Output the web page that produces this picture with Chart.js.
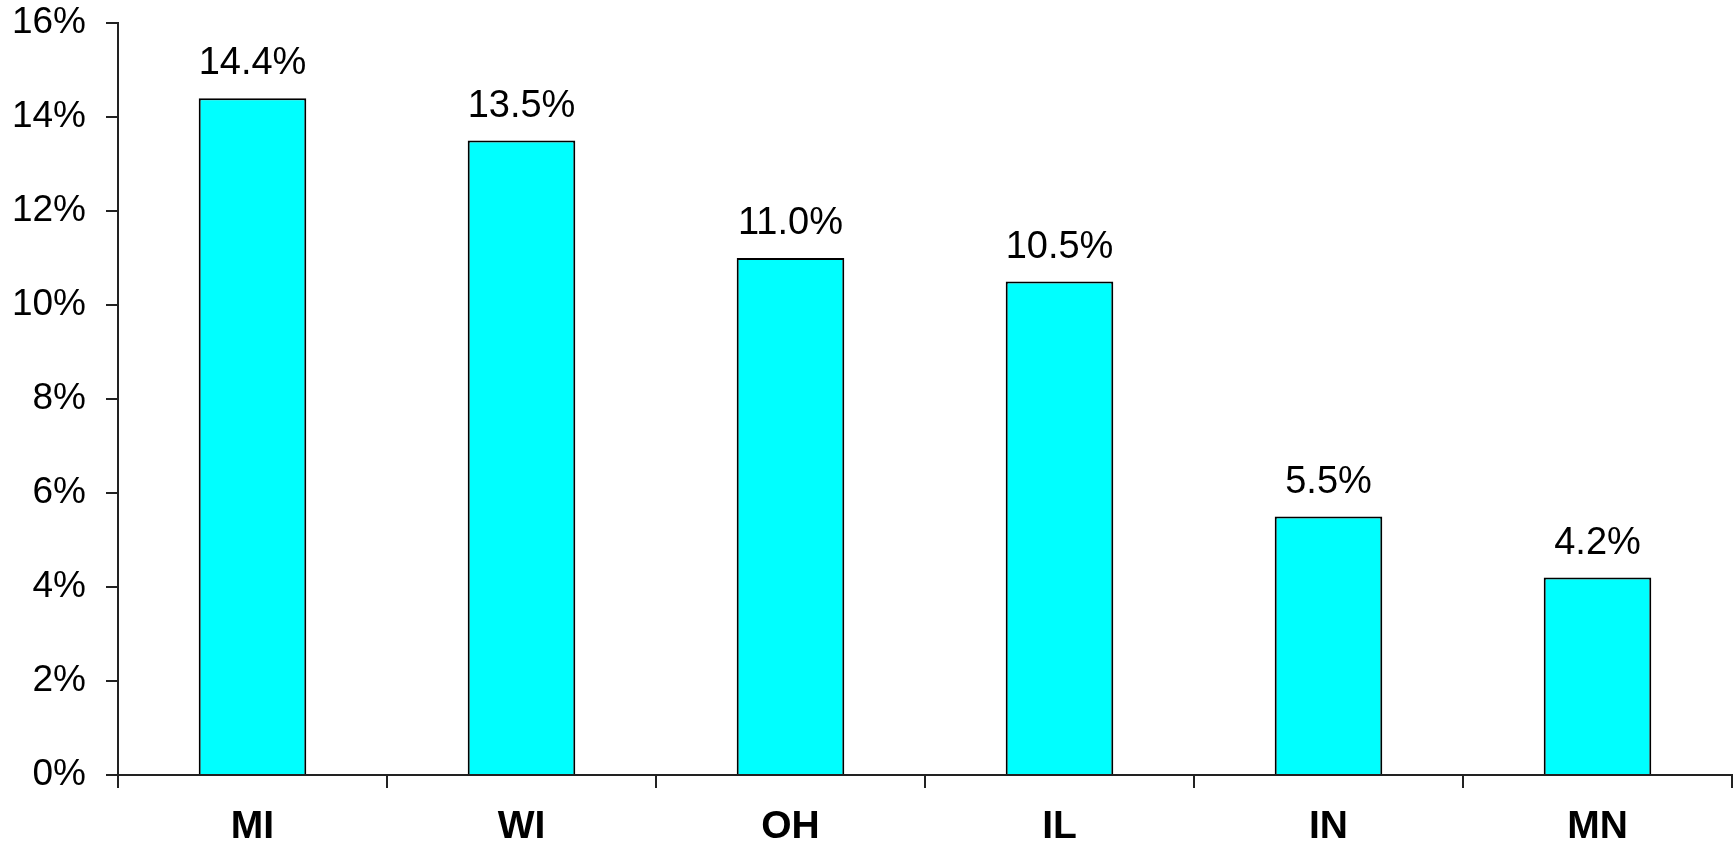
<!DOCTYPE html>
<html>
<head>
<meta charset="utf-8">
<script src="https://cdn.jsdelivr.net/npm/chart.js@4/dist/chart.umd.min.js"></script>
<style>
  html, body { margin: 0; padding: 0; background: #fff; }
  #wrap { width: 1736px; height: 844px; }
</style>
</head>
<body>
<div id="wrap"><canvas id="myChart" width="1736" height="844"></canvas></div>
<script>
const states = ['MI', 'WI', 'OH', 'IL', 'IN', 'MN']
const shares = [14.4, 13.5, 11.0, 10.5, 5.5, 4.2]
const yTicks = [0, 2, 4, 6, 8, 10, 12, 14, 16]

// draws the value above each bar
const valueLabels = {
  id: 'valueLabels',
  afterDatasetsDraw(chart) {
    const ctx = chart.ctx
    const meta = chart.getDatasetMeta(0)
    ctx.save()
    ctx.font = '38px "Liberation Sans", Arial, sans-serif'
    ctx.fillStyle = '#000'
    ctx.textAlign = 'center'
    ctx.textBaseline = 'alphabetic'
    meta.data.forEach((bar, i) => {
      ctx.fillText(shares[i].toFixed(1) + '%', bar.x, bar.y - 24)
    })
    ctx.restore()
  }
}

Chart.defaults.font.family = '"Liberation Sans", Arial, sans-serif'
Chart.defaults.color = '#000'

const chart = new Chart(document.getElementById('myChart'), {
  type: 'bar',
  data: {
    labels: states,
    datasets: [{
      data: shares,
      backgroundColor: '#00ffff',
      borderColor: '#000',
      borderWidth: 2,
      barPercentage: 0.4,
      categoryPercentage: 1
    }]
  },
  options: {
    responsive: false,
    animation: false,
    layout: { padding: { top: 23, right: 4 } },
    plugins: { legend: { display: false }, tooltip: { enabled: false } },
    scales: {
      x: {
        grid: { offset: true, drawOnChartArea: false, tickLength: 13, color: '#222', lineWidth: 2 },
        border: { color: '#222', width: 2 },
        ticks: { font: { size: 39, weight: 'bold' }, padding: 16, color: '#000' },
        afterFit: s => { s.height = 69 }
      },
      y: {
        min: 0,
        max: 16,
        afterBuildTicks: s => { s.ticks = yTicks.map(v => ({ value: v })) },
        grid: { drawOnChartArea: false, tickLength: 12, color: '#222', lineWidth: 2 },
        border: { color: '#222', width: 2 },
        ticks: { font: { size: 37 }, padding: 20, color: '#000', callback: v => v + '%' },
        afterFit: s => {
          s.width = 118
          s.paddingTop = 0
          s.paddingBottom = 0
        }
      }
    }
  },
  plugins: [valueLabels]
})
</script>
</body>
</html>
